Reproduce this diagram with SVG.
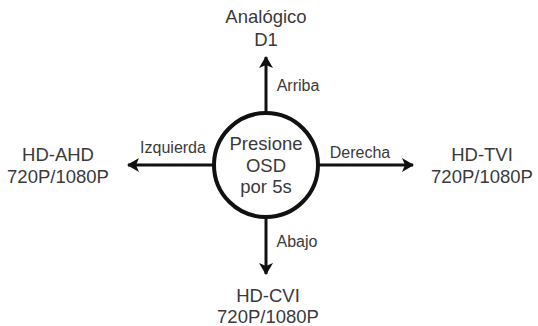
<svg xmlns="http://www.w3.org/2000/svg" width="538" height="326" viewBox="0 0 538 326">
<style>
text{font-family:"Liberation Sans",Arial,sans-serif;fill:#3a3a3a;text-anchor:middle}
.big{font-size:18.5px}
.lab{font-size:16px}
.ln{stroke:#111;stroke-width:3;fill:none}
</style>
<defs>
<marker id="ah" viewBox="0 0 12 14" refX="11" refY="7" markerWidth="12" markerHeight="14" markerUnits="userSpaceOnUse" orient="auto">
<path d="M0,0 L12,7 L0,14 L3,7 Z" fill="#111"/>
</marker>
</defs>
<rect width="538" height="326" fill="#fff"/>
<g id="connectors">
<line class="ln" x1="266" y1="112" x2="266" y2="57" marker-end="url(#ah)"/>
<line class="ln" x1="266" y1="218" x2="266" y2="274" marker-end="url(#ah)"/>
<line class="ln" x1="213" y1="165" x2="128" y2="165" marker-end="url(#ah)"/>
<line class="ln" x1="319" y1="165" x2="413" y2="165" marker-end="url(#ah)"/>
<text class="lab" x="298" y="91">Arriba</text>
<text class="lab" x="297" y="247">Abajo</text>
<text class="lab" x="173" y="153">Izquierda</text>
<text class="lab" x="360" y="158">Derecha</text>
</g>
<g id="center">
<circle cx="266" cy="165" r="52" fill="#fff" stroke="#111" stroke-width="4"/>
<text class="big" x="266" y="150">Presione</text>
<text class="big" x="266" y="172">OSD</text>
<text class="big" x="266" y="193">por 5s</text>
</g>
<g id="top">
<text class="big" x="266" y="23">Analógico</text>
<text class="big" x="266" y="46">D1</text>
</g>
<g id="bottom">
<text class="big" x="268" y="302">HD-CVI</text>
<text class="big" x="268" y="323">720P/1080P</text>
</g>
<g id="left">
<text class="big" x="58" y="161">HD-AHD</text>
<text class="big" x="58" y="183">720P/1080P</text>
</g>
<g id="right">
<text class="big" x="482" y="161">HD-TVI</text>
<text class="big" x="482" y="183">720P/1080P</text>
</g>
</svg>
